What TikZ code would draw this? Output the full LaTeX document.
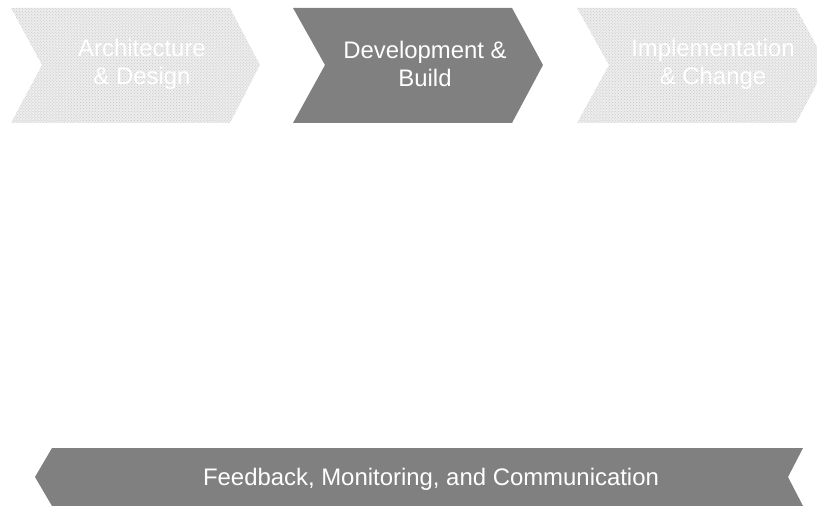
\documentclass[tikz,border=0pt]{standalone}
\usepackage{fontspec}
\setmainfont{Liberation Sans}
\usetikzlibrary{patterns}
\definecolor{darkfill}{HTML}{808080}
\definecolor{lightfill}{HTML}{EDEDED}
\definecolor{dotcol}{HTML}{C4C4C4}
\begin{document}
\begin{tikzpicture}[x=1bp,y=-1bp,
  darkshape/.style={fill=darkfill,draw=none},
  lightshape/.style={fill=lightfill,draw=none},
  dotshape/.style={pattern=crosshatch dots,pattern color=dotcol,draw=none},
  label/.style={text=white,font=\fontsize{24}{28}\selectfont,align=center,inner sep=0pt}]
\useasboundingbox (0,0) rectangle (817,506);
\clip (0,0) rectangle (817,506);
% chevron 1
\path[lightshape] (11,8) -- (230,8) -- (260,65) -- (230,123) -- (11,123) -- (42,65) -- cycle;
\path[dotshape] (11,8) -- (230,8) -- (260,65) -- (230,123) -- (11,123) -- (42,65) -- cycle;
% chevron 2
\path[darkshape] (293,8) -- (512,8) -- (543,65) -- (512,123) -- (293,123) -- (325,65) -- cycle;
% chevron 3
\path[lightshape] (577,8) -- (796,8) -- (827,65) -- (796,123) -- (577,123) -- (609,65) -- cycle;
\path[dotshape] (577,8) -- (796,8) -- (827,65) -- (796,123) -- (577,123) -- (609,65) -- cycle;
% bottom arrow
\path[darkshape] (52,448) -- (803,448) -- (788,477) -- (803,506) -- (52,506) -- (35,477) -- cycle;
\node[label] (arch) at (142,64) {Architecture\\\& Design};
\node[label] (dev) at (425,64) {Development \&\\Build};
\node[label] (impl) at (713,64) {Implementation\\\& Change};
\node[label,anchor=base] (fb) at (431,485) {Feedback, Monitoring, and Communication};
\end{tikzpicture}
\end{document}
